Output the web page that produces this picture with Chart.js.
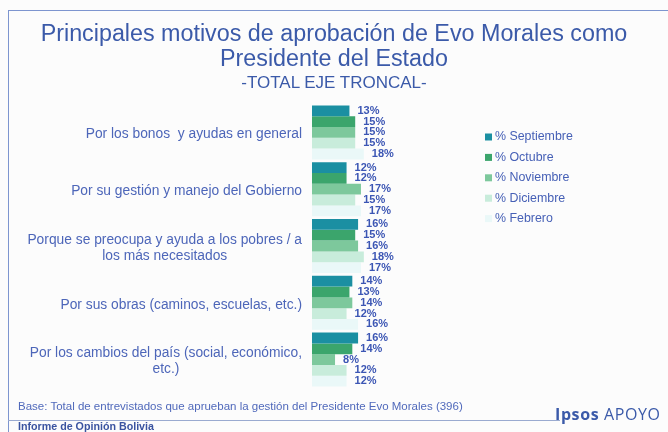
<!DOCTYPE html>
<html>
<head>
<meta charset="utf-8">
<script src="https://cdn.jsdelivr.net/npm/chart.js@4/dist/chart.umd.min.js"></script>
<style>
  html, body { margin: 0; padding: 0; background: #fcfcfc; }
  body { width: 668px; height: 432px; position: relative; overflow: hidden; font-family: "Liberation Sans", Arial, sans-serif; }
  #chart { position: absolute; left: 0; top: 0; }
  .frame-top { position: absolute; left: 8px; top: 10px; width: 660px; height: 0; border-top: 1px solid #7d95cf; }
  .frame-left { position: absolute; left: 8px; top: 10px; width: 0; height: 422px; border-left: 1px solid #7d95cf; }
  .frame-bottom { position: absolute; left: 8px; top: 420px; width: 552px; height: 0; border-top: 1px solid #9aaad0; }
  .title { position: absolute; left: 0; width: 668px; text-align: center; color: #3b5aa9; white-space: nowrap; }
  .t1 { top: 20px; font-size: 23.3px; }
  .t2 { top: 45px; font-size: 23.3px; }
  .t3 { top: 73px; font-size: 17px; }
  .base { position: absolute; left: 18px; top: 400px; font-size: 11.5px; color: #5069bb; white-space: nowrap; }
  .informe { position: absolute; left: 18px; top: 420px; font-size: 10.7px; font-weight: bold; color: #3a53a0; white-space: nowrap; }
  .ipsos { position: absolute; left: 555px; top: 403px; font-size: 16px; letter-spacing: 0.6px; color: #3b5aa9; white-space: nowrap; font-family: "Open Sans", "Liberation Sans", sans-serif; }
</style>
</head>
<body>
<canvas id="chart" width="668" height="432"></canvas>
<div class="frame-top"></div>
<div class="frame-left"></div>
<div class="frame-bottom"></div>
<div class="title t1">Principales motivos de aprobación de Evo Morales como</div>
<div class="title t2">Presidente del Estado</div>
<div class="title t3">-TOTAL EJE TRONCAL-</div>
<div class="base">Base: Total de entrevistados que aprueban la gestión del Presidente Evo Morales (396)</div>
<div class="informe">Informe de Opinión Bolivia</div>
<div class="ipsos"><b>Ipsos</b> APOYO</div>
<script>
var categories = [
  ["Por los bonos  y ayudas en general"],
  ["Por su gestión y manejo del Gobierno"],
  ["Porque se preocupa y ayuda a los pobres / a", "los más necesitados"],
  ["Por sus obras (caminos, escuelas, etc.)"],
  ["Por los cambios del país (social, económico,", "etc.)"]
];
var seriesNames = ["% Septiembre", "% Octubre", "% Noviembre", "% Diciembre", "% Febrero"];
var septiembre = [13, 12, 16, 14, 16];
var octubre = [15, 12, 15, 13, 14];
var noviembre = [15, 17, 16, 14, 8];
var diciembre = [15, 15, 18, 12, 12];
var febrero = [18, 17, 17, 16, 12];
var seriesColors = ["#1b8fa2", "#3ba56c", "#7dc89c", "#c8ecdb", "#eaf8f8"];

var textBlue = "#4660b6";

var categoryLabels = {
  id: "categoryLabels",
  afterDraw: function (chart) {
    var ctx = chart.ctx;
    var yScale = chart.scales.y;
    ctx.save();
    ctx.font = "13.8px 'Liberation Sans', Arial, sans-serif";
    ctx.fillStyle = "#4d66b9";
    ctx.textAlign = "center";
    ctx.textBaseline = "middle";
    categories.forEach(function (lines, i) {
      var yc = yScale.getPixelForValue(i) + 2;
      var widest = 0;
      lines.forEach(function (l) { widest = Math.max(widest, ctx.measureText(l).width); });
      var cx = 302 - widest / 2;
      var lh = 16;
      var y0 = yc - (lines.length - 1) * lh / 2;
      lines.forEach(function (l, k) { ctx.fillText(l, cx, y0 + k * lh); });
    });
    ctx.restore();
  }
};

var valueLabels = {
  id: "valueLabels",
  afterDatasetsDraw: function (chart) {
    var ctx = chart.ctx;
    ctx.save();
    ctx.font = "bold 11px 'Liberation Sans', Arial, sans-serif";
    ctx.fillStyle = "#3c56b4";
    ctx.textAlign = "left";
    ctx.textBaseline = "middle";
    chart.data.datasets.forEach(function (ds, d) {
      chart.getDatasetMeta(d).data.forEach(function (bar, i) {
        ctx.fillText(ds.data[i] + "%", bar.x + 8, bar.y);
      });
    });
    ctx.restore();
  }
};

var sideLegend = {
  id: "sideLegend",
  afterDraw: function (chart) {
    var ctx = chart.ctx;
    ctx.save();
    ctx.font = "12.4px 'Liberation Sans', Arial, sans-serif";
    ctx.textAlign = "left";
    ctx.textBaseline = "middle";
    chart.data.datasets.forEach(function (ds, d) {
      var y = 137 + d * 20.4;
      ctx.fillStyle = ds.backgroundColor;
      ctx.fillRect(485, y - 3.5, 7, 7);
      ctx.fillStyle = textBlue;
      ctx.fillText(ds.label, 495, y);
    });
    ctx.restore();
  }
};

var seriesData = [septiembre, octubre, noviembre, diciembre, febrero];

new Chart(document.getElementById("chart"), {
  type: "bar",
  data: {
    labels: categories,
    datasets: seriesData.map(function (values, i) {
      return {
        label: seriesNames[i],
        data: values,
        backgroundColor: seriesColors[i],
        borderWidth: 0,
        barPercentage: 1,
        categoryPercentage: 0.95
      };
    })
  },
  options: {
    indexAxis: "y",
    responsive: false,
    animation: false,
    devicePixelRatio: 1,
    layout: { padding: { left: 312, right: 212, top: 104, bottom: 44 } },
    plugins: { legend: { display: false }, tooltip: { enabled: false } },
    scales: {
      x: { display: false, min: 0, max: 50 },
      y: { display: false }
    }
  },
  plugins: [categoryLabels, valueLabels, sideLegend]
});
</script>
</body>
</html>
